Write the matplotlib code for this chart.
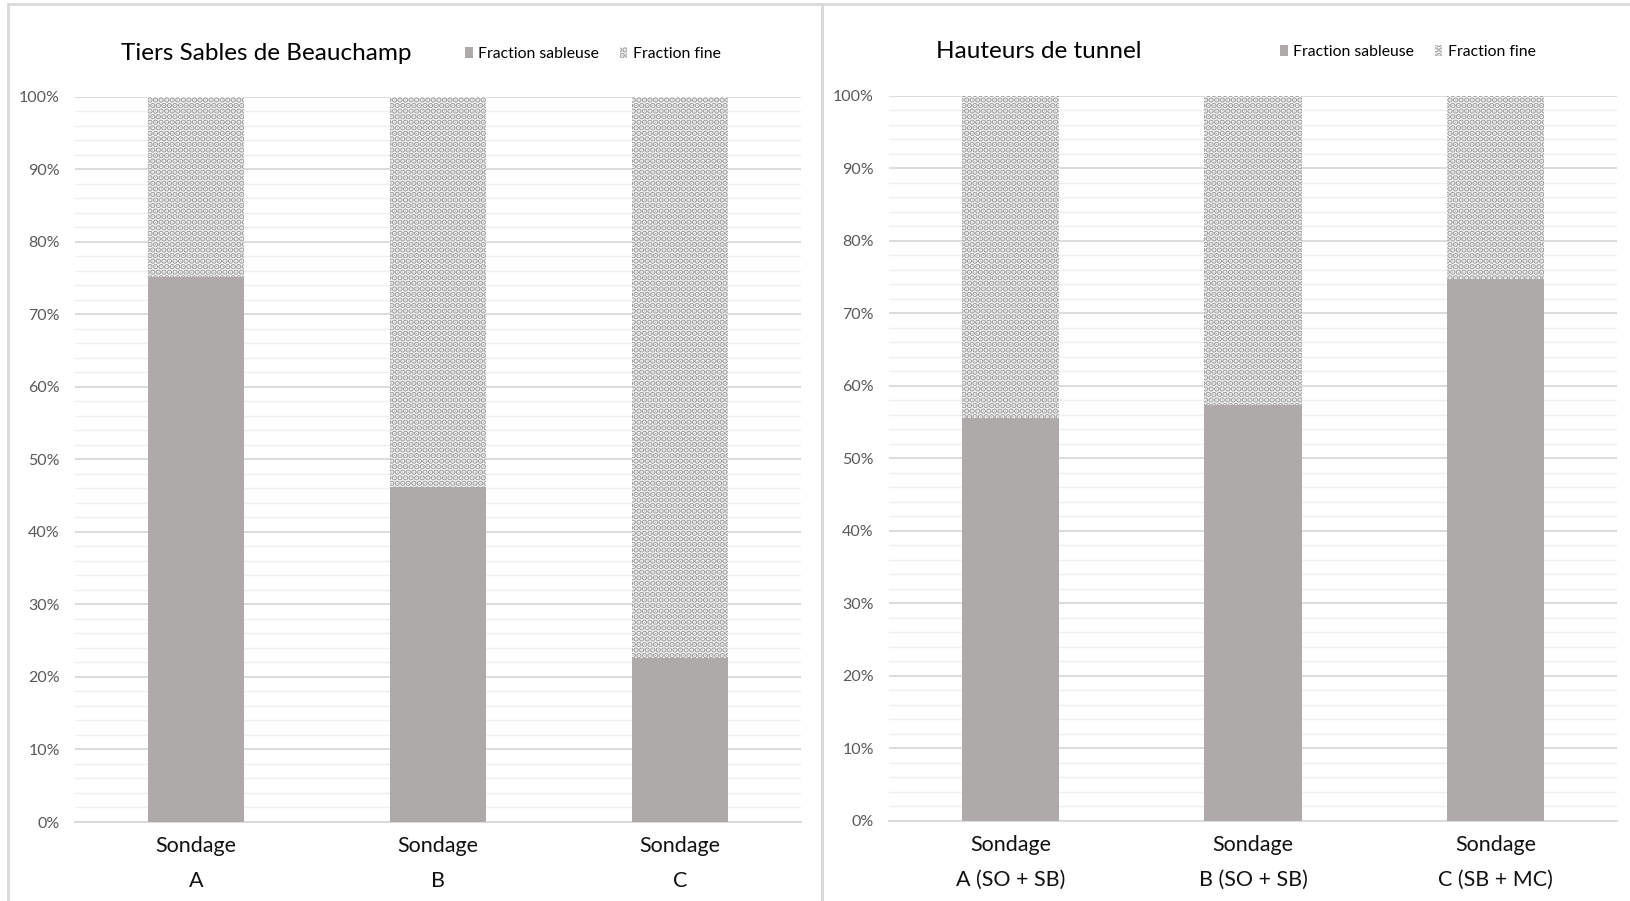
import matplotlib
matplotlib.use("Agg")
import matplotlib.pyplot as plt
from matplotlib import font_manager
from matplotlib.patches import Patch, Rectangle
from matplotlib.ticker import MultipleLocator, PercentFormatter

# ---------------------------------------------------------------------------
# data
# ---------------------------------------------------------------------------
left_title = "Tiers Sables de Beauchamp"
left_labels = ["Sondage\nA", "Sondage\nB", "Sondage\nC"]
left_sable = [75.1, 46.2, 22.6]

right_title = "Hauteurs de tunnel"
right_labels = ["Sondage\nA (SO + SB)", "Sondage\nB (SO + SB)", "Sondage\nC (SB + MC)"]
right_sable = [55.6, 57.4, 74.7]

series_names = ["Fraction sableuse", "Fraction fine"]


def pick_font(names):
    for n in names:
        try:
            font_manager.findfont(n, fallback_to_default=False)
            return n
        except ValueError:
            continue
    return "DejaVu Sans"


FONT = pick_font(["Liberation Sans Narrow", "Lato", "Liberation Sans"])
plt.rcParams["font.family"] = [FONT, "DejaVu Sans"]
plt.rcParams["hatch.linewidth"] = 3.0

SAND = "#aeaaaa"
DOTS = "#a0a0a0"
HATCH = "..."
W, H = 1631, 901


def fx(px):
    return px / W


def fy(py):
    return 1 - py / H


def draw_panel(ax, labels, sable):
    x = range(len(labels))
    fine = [100 - v for v in sable]
    ax.bar(x, sable, width=0.4, color=SAND, edgecolor="none", zorder=3)
    # hatch takes the edge colour, the edge itself is not stroked
    ax.bar(x, fine, width=0.4, bottom=sable, facecolor="white",
           edgecolor=DOTS, linewidth=0, hatch=HATCH, zorder=3)
    ax.set_xlim(-0.5, len(labels) - 0.5)
    ax.set_ylim(0, 100)
    ax.yaxis.set_major_locator(MultipleLocator(10))
    ax.yaxis.set_minor_locator(MultipleLocator(2))
    ax.yaxis.set_major_formatter(PercentFormatter(decimals=0))
    ax.grid(True, which="major", axis="y", color="#d9d9d9", lw=1.3)
    ax.grid(True, which="minor", axis="y", color="#efefef", lw=1.0)
    ax.set_axisbelow(True)
    for s in ["top", "right", "left"]:
        ax.spines[s].set_visible(False)
    ax.spines["bottom"].set_color("#d9d9d9")
    ax.spines["bottom"].set_linewidth(1.3)
    ax.set_xticks(list(x))
    ax.set_xticklabels(labels, fontsize=15.5, linespacing=1.95, color="#111111")
    ax.tick_params(axis="x", length=0, pad=10)
    ax.tick_params(axis="y", which="both", length=0, pad=11,
                   labelsize=11.5, labelcolor="#595959")


def panel_legend(fig, x_px, y_px):
    handles = [Patch(facecolor=SAND, edgecolor="none"),
               Patch(facecolor="white", edgecolor=DOTS, linewidth=0,
                     hatch=HATCH)]
    fig.legend(handles, series_names, loc="center left",
               bbox_to_anchor=(fx(x_px), fy(y_px)), ncol=2, frameon=False,
               fontsize=11.3, handlelength=0.5, handleheight=0.65,
               handletextpad=0.35, columnspacing=1.3, borderpad=0,
               borderaxespad=0)


fig = plt.figure(figsize=(W / 100, H / 100), dpi=100)

ax1 = fig.add_axes([fx(75), fy(822), fx(801 - 75), (822 - 96.7) / H])
draw_panel(ax1, left_labels, left_sable)

ax2 = fig.add_axes([fx(889), fy(820.7), fx(1617 - 889), (820.7 - 95.7) / H])
draw_panel(ax2, right_labels, right_sable)

# chart titles and legends
fig.text(fx(121), fy(53), left_title, fontsize=17.5, va="center", ha="left")
fig.text(fx(936), fy(51), right_title, fontsize=17.5, va="center", ha="left")
panel_legend(fig, 465, 54)
panel_legend(fig, 1280, 52)

# light frames around both charts
for x0, x1 in [(8, 822), (822, 1660)]:
    fig.add_artist(Rectangle((fx(x0), fy(940)), fx(x1 - x0), 936 / H,
                             transform=fig.transFigure, fill=False,
                             edgecolor="#d9d9d9", lw=2))

fig.savefig("out.png", dpi=100)
